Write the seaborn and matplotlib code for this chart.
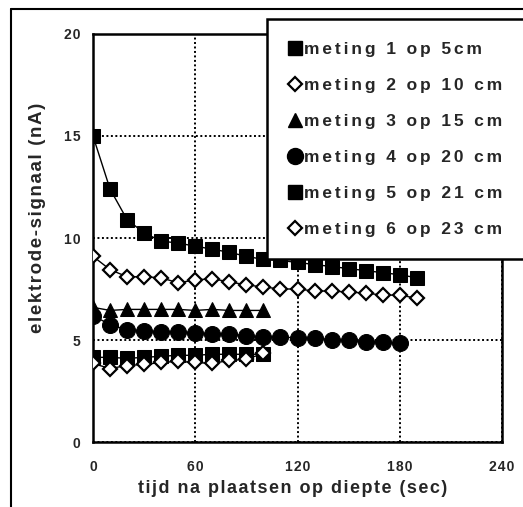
import matplotlib

matplotlib.use("Agg")
import matplotlib.pyplot as plt
import numpy as np
import pandas as pd
import seaborn as sns
from matplotlib.lines import Line2D
from matplotlib.ticker import MultipleLocator

# meetwaarden
tijd_lang = [0, 10, 20, 30, 40, 50, 60, 70, 80, 90, 100, 110, 120, 130, 140, 150, 160, 170, 180, 190]
tijd_180 = [0, 10, 20, 30, 40, 50, 60, 70, 80, 90, 100, 110, 120, 130, 140, 150, 160, 170, 180]
tijd_kort = [0, 10, 20, 30, 40, 50, 60, 70, 80, 90, 100]

meting1 = [15.0, 12.4, 10.9, 10.25, 9.85, 9.75, 9.6, 9.45, 9.3, 9.1, 8.95, 8.9, 8.8, 8.7, 8.6, 8.5, 8.4, 8.3, 8.2, 8.05]
meting2 = [9.1, 8.45, 8.1, 8.1, 8.05, 7.8, 7.95, 8.0, 7.85, 7.7, 7.6, 7.5, 7.5, 7.4, 7.4, 7.35, 7.3, 7.2, 7.2, 7.05]
meting3 = [6.6, 6.45, 6.5, 6.5, 6.5, 6.5, 6.45, 6.5, 6.45, 6.45, 6.45]
meting4 = [6.2, 5.75, 5.5, 5.45, 5.4, 5.4, 5.35, 5.3, 5.3, 5.2, 5.15, 5.15, 5.1, 5.1, 5.0, 5.0, 4.9, 4.9, 4.85]
meting5 = [4.15, 4.15, 4.1, 4.15, 4.2, 4.25, 4.25, 4.3, 4.3, 4.3, 4.3]
meting6 = [3.85, 3.6, 3.75, 3.8, 3.9, 3.95, 3.9, 3.85, 4.0, 4.05, 4.35]

labels = [
    "meting 1 op 5cm",
    "meting 2 op 10 cm",
    "meting 3 op 15 cm",
    "meting 4 op 20 cm",
    "meting 5 op 21 cm",
    "meting 6 op 23 cm",
]
x_ticks = [0, 60, 120, 180, 240]
y_ticks = [0, 5, 10, 15, 20]

HAIR = "\u200a"
SIXTH = "\u2006"


def spaced(tekst, sep=HAIR):
    # wijde letterafstand zoals in de oude figuur
    return sep.join(tekst)


sns.set_style("white")
plt.rcParams["font.family"] = ["Liberation Sans", "DejaVu Sans"]
plt.rcParams["font.weight"] = "bold"

fig = plt.figure(figsize=(5.23, 5.07), dpi=100)
ax = fig.add_axes([93 / 523, 65 / 507, 409 / 523, 408 / 507])

stijlen = [
    dict(marker="s", markersize=9.5, markerfacecolor="black"),
    dict(marker="D", markersize=6.8, markerfacecolor="white", markeredgewidth=1.6),
    dict(marker="^", markersize=10.5, markerfacecolor="black"),
    dict(marker="o", markersize=11.5, markerfacecolor="black"),
    dict(marker="s", markersize=9.5, markerfacecolor="black"),
    dict(marker="D", markersize=6.8, markerfacecolor="white", markeredgewidth=1.6),
]
reeksen = [
    (tijd_lang, meting1),
    (tijd_lang, meting2),
    (tijd_kort, meting3),
    (tijd_180, meting4),
    (tijd_kort, meting5),
    (tijd_kort, meting6),
]

for (tx, ty), stijl, naam in zip(reeksen, stijlen, labels):
    df = pd.DataFrame({"tijd": tx, "signaal": ty})
    sns.lineplot(
        data=df, x="tijd", y="signaal", ax=ax, color="black", linewidth=1.0,
        markeredgecolor="black", legend=False, zorder=3, **stijl,
    )

ax.set_xlim(0, 240)
ax.set_ylim(0, 20)
ax.set_xticks(x_ticks, labels=[spaced(str(v)) for v in x_ticks])
ax.set_yticks(y_ticks, labels=[spaced(str(v)) for v in y_ticks])
ax.xaxis.set_minor_locator(MultipleLocator(10))
ax.yaxis.set_minor_locator(MultipleLocator(1))
ax.tick_params(which="both", direction="in", length=9, width=1.6, color="black",
               top=False, right=False)
ax.tick_params(axis="x", which="major", pad=13, labelsize=10)
ax.tick_params(axis="y", which="major", pad=9, labelsize=10)
for lab in ax.get_xticklabels() + ax.get_yticklabels():
    lab.set_fontweight("bold")

for kant in ["left", "bottom", "top", "right"]:
    ax.spines[kant].set_visible(True)
    ax.spines[kant].set_color("black")
    ax.spines[kant].set_linewidth(1.8)

ax.grid(True, which="major", color="black", linestyle=(0, (1, 1.3)), linewidth=1.4)

ax.set_xlabel(spaced("tijd na plaatsen op diepte (sec)"), fontsize=13, fontweight="bold")
ax.set_ylabel(spaced("elektrode-signaal (nA)"), fontsize=13.5, fontweight="bold")
ax.xaxis.set_label_coords(0.487, -0.093)
ax.yaxis.set_label_coords(-0.115, 0.55)

handles = [
    Line2D([], [], linestyle="none", color="black", markeredgecolor="black", **stijl)
    for stijl in stijlen
]
leg = fig.legend(
    handles, [spaced(l, SIXTH) for l in labels],
    loc="upper left", bbox_to_anchor=(267 / 523, 1 - 19 / 507, 300 / 523, 0.0),
    mode="expand", fontsize=12.5, frameon=True, fancybox=False, framealpha=1,
    edgecolor="black", borderpad=1.3, handlelength=0.6, handletextpad=0.25,
    labelspacing=1.2, borderaxespad=0.0,
)
leg.get_frame().set_linewidth(1.8)
for tekst in leg.get_texts():
    tekst.set_fontweight("bold")
leg.set_zorder(10)

# kader rond de hele figuur
fig.add_artist(Line2D([11 / 523, 11 / 523], [0, 1 - 9 / 507], transform=fig.transFigure,
                      color="black", linewidth=1.5))
fig.add_artist(Line2D([11 / 523, 1], [1 - 9 / 507, 1 - 9 / 507], transform=fig.transFigure,
                      color="black", linewidth=1.5))

fig.savefig("out.png", dpi=100, facecolor="white")
